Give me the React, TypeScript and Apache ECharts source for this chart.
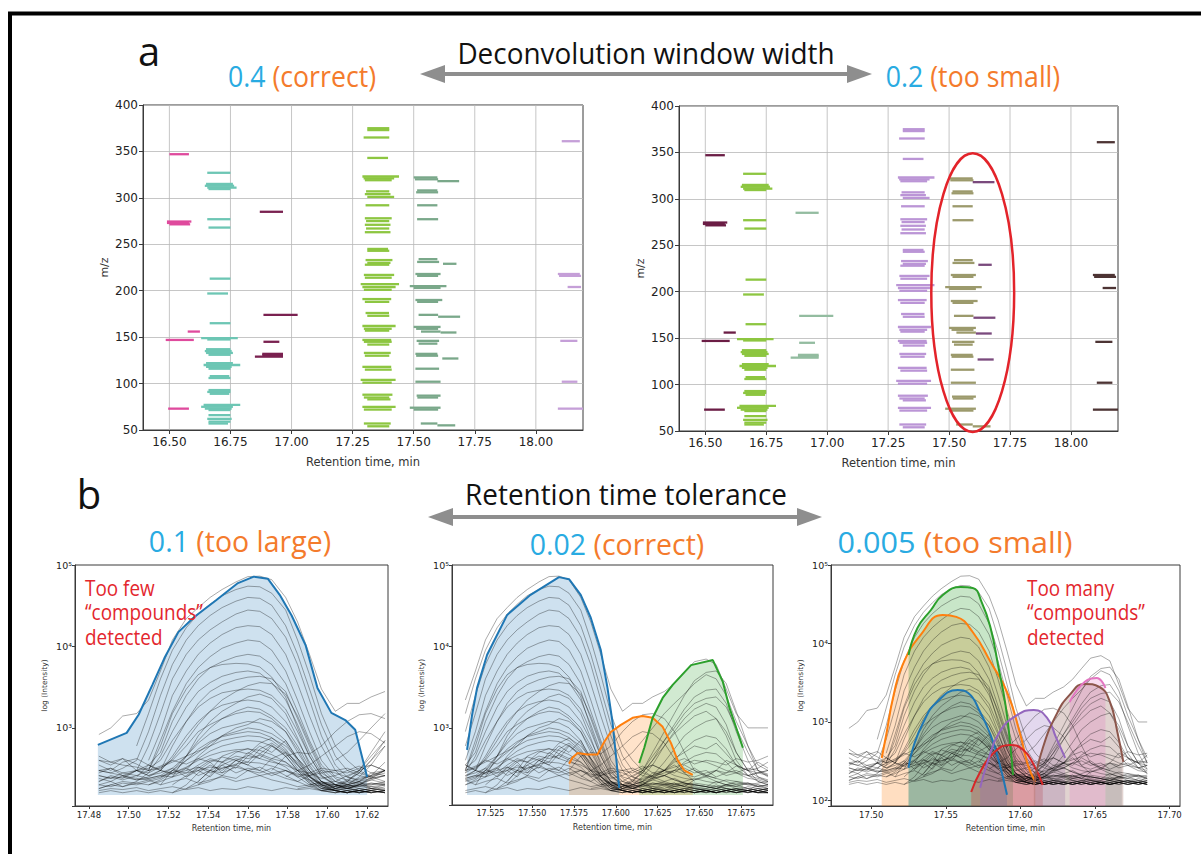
import React, { useEffect, useRef } from "react";
import * as echarts from "echarts";

// ================= Panel a (m/z vs retention time) =================
const A_X_TICKS = [16.5, 16.75, 17.0, 17.25, 17.5, 17.75, 18.0];
const A_X_MIN = 16.392;
const A_X_MAX = 18.193;
const A_Y_MIN = 50;
const A_Y_MAX = 400;
const A_Y_STEP = 50;

// segments: [rt start, rt end, m/z]
const GROUP_P = [[16.5, 16.58, 347], [16.49, 16.59, 274.5], [16.49, 16.58, 273], [16.5, 16.585, 271.5], [16.575, 16.625, 156], [16.485, 16.6, 147], [16.495, 16.58, 73]];
const GROUP_T = [[16.655, 16.75, 327], [16.65, 16.76, 315], [16.645, 16.765, 313], [16.655, 16.775, 311], [16.66, 16.75, 309.5], [16.655, 16.75, 277], [16.66, 16.75, 268], [16.665, 16.75, 213], [16.655, 16.74, 197], [16.665, 16.75, 165], [16.63, 16.78, 149], [16.655, 16.75, 147.5], [16.65, 16.75, 137], [16.645, 16.755, 135], [16.65, 16.76, 133], [16.66, 16.75, 131], [16.65, 16.76, 122], [16.64, 16.79, 120], [16.65, 16.755, 118], [16.66, 16.75, 116], [16.665, 16.745, 108], [16.66, 16.75, 106], [16.66, 16.75, 93], [16.655, 16.75, 91], [16.665, 16.745, 89], [16.64, 16.79, 77], [16.63, 16.76, 75], [16.645, 16.755, 73], [16.66, 16.75, 71.5], [16.66, 16.75, 66], [16.655, 16.755, 62], [16.66, 16.75, 59], [16.66, 16.74, 57]];
const GROUP_M = [[16.87, 16.965, 285], [16.885, 17.025, 174], [16.885, 16.95, 145], [16.88, 16.965, 132], [16.88, 16.965, 130.5], [16.85, 16.965, 129]];
const GROUP_G = [[17.31, 17.4, 375], [17.31, 17.4, 373], [17.295, 17.4, 365], [17.31, 17.395, 343], [17.29, 17.44, 323], [17.295, 17.42, 321], [17.3, 17.41, 319], [17.305, 17.4, 307], [17.3, 17.405, 304], [17.31, 17.42, 301], [17.303, 17.4, 292], [17.3, 17.41, 278], [17.305, 17.4, 275], [17.3, 17.405, 271], [17.305, 17.4, 267], [17.3, 17.405, 263], [17.31, 17.395, 245], [17.31, 17.4, 243], [17.303, 17.413, 233], [17.31, 17.405, 230], [17.3, 17.4, 228], [17.296, 17.42, 217], [17.3, 17.41, 214], [17.283, 17.44, 207], [17.29, 17.426, 204], [17.296, 17.41, 201], [17.29, 17.408, 191], [17.3, 17.4, 188], [17.303, 17.399, 176], [17.31, 17.4, 173], [17.29, 17.426, 162], [17.296, 17.41, 159], [17.3, 17.4, 157], [17.29, 17.408, 147], [17.296, 17.41, 145], [17.31, 17.4, 142], [17.296, 17.406, 133], [17.3, 17.4, 130], [17.29, 17.408, 118], [17.3, 17.41, 115], [17.283, 17.426, 104], [17.29, 17.41, 101], [17.29, 17.413, 88], [17.296, 17.4, 85], [17.31, 17.405, 83], [17.29, 17.426, 75], [17.296, 17.41, 72], [17.296, 17.406, 57], [17.31, 17.4, 54]];
const GROUP_S_MAIN = [[17.5, 17.597, 322], [17.505, 17.6, 320], [17.514, 17.597, 308], [17.51, 17.6, 306], [17.514, 17.597, 292], [17.514, 17.6, 277], [17.52, 17.597, 234], [17.514, 17.604, 231], [17.507, 17.61, 218], [17.514, 17.6, 216], [17.484, 17.634, 205], [17.5, 17.61, 203], [17.507, 17.617, 190], [17.514, 17.6, 188], [17.52, 17.6, 174], [17.5, 17.61, 161], [17.51, 17.6, 159], [17.53, 17.61, 156], [17.512, 17.604, 146], [17.52, 17.597, 143], [17.507, 17.597, 132], [17.51, 17.6, 130], [17.507, 17.604, 116], [17.507, 17.61, 102], [17.512, 17.61, 87], [17.515, 17.6, 85], [17.484, 17.61, 74], [17.5, 17.6, 72], [17.529, 17.597, 57], [17.597, 17.67, 55]];
const GROUP_S_EXT = [[17.597, 17.686, 318], [17.62, 17.675, 229], [17.6, 17.69, 172], [17.61, 17.675, 155], [17.617, 17.683, 127]];
const GROUP_L = [[18.106, 18.18, 361], [18.09, 18.18, 218], [18.095, 18.185, 216], [18.13, 18.185, 204], [18.1, 18.17, 146], [18.106, 18.17, 102], [18.09, 18.2, 73]];

// red ellipse annotation on the right panel (centre rt, centre m/z, half width rt, half height m/z)
const ELLIPSE = { rt: 17.597, mz: 199, halfRt: 0.17, halfMz: 150 };

// ================= Panel b (log intensity chromatograms) =================
const B1_X_TICKS = [17.48, 17.5, 17.52, 17.54, 17.56, 17.58, 17.6, 17.62];
const B2_X_TICKS = [17.525, 17.55, 17.575, 17.6, 17.625, 17.65, 17.675];
const B3_X_TICKS = [17.5, 17.55, 17.6, 17.65, 17.7];

const TIMES = [17.485, 17.491, 17.497, 17.504, 17.51, 17.516, 17.522, 17.529, 17.535, 17.541, 17.547, 17.554, 17.56, 17.566, 17.572, 17.579, 17.585, 17.591, 17.597, 17.604, 17.61, 17.616, 17.622, 17.629, 17.635, 17.641, 17.647, 17.654, 17.66, 17.666, 17.672, 17.679, 17.685, 17.691];

const _ = null;
const TRACES: (number | null)[][] = [
  [830, 1000, 1400, 1500, 2200, 5000, 12000, 22000, 30000, 40000, 50000, 62000, 72000, 73000, 66000, 40000, 20000, 8000, 3000, 1600, 2000, 2000, 2400, 2800, 3500, 4800, 6500, 7000, 6000, 3000, 1500, 1000, 1000, 1000],
  [_, _, _, 600, 1500, 4000, 9000, 17000, 25000, 33000, 42000, 50000, 55000, 54000, 45000, 28000, 12000, 4500, 1500, 600, 400, 300, 250, 220, 200, 210, 190, 180, 200, 180, 170, 190, 180, 170],
  [300, 280, 320, 400, 900, 2500, 6000, 12000, 18000, 24000, 30000, 36000, 40000, 39000, 32000, 18000, 8000, 3000, 1100, 450, 300, 260, 240, 260, 230, 210, 200, 190, 220, 200, 180, 170, 200, 190],
  [_, _, 250, 300, 600, 1500, 4000, 8000, 12000, 16000, 20000, 25000, 28000, 27000, 22000, 13000, 6000, 2200, 800, 350, 250, 220, 280, 300, 260, 240, 230, 250, 220, 200, 190, 210, 200, 180],
  [_, _, _, _, 400, 900, 2500, 5000, 8000, 11000, 14000, 17000, 18000, 17500, 14000, 8000, 3500, 1400, 600, 300, 220, 200, 180, 170, 190, 200, 180, 170, 160, 170, 180, 160, 170, 160],
  [220, 250, 230, 260, 300, 700, 1600, 3500, 5500, 7500, 9500, 11000, 12000, 11500, 9000, 5000, 2200, 900, 400, 250, 230, 210, 200, 220, 240, 210, 200, 190, 180, 200, 190, 180, 170, 180],
  [_, _, _, 250, 350, 500, 1200, 2500, 4000, 5500, 6500, 7500, 8000, 7600, 6000, 3500, 1600, 700, 350, 240, 200, 190, 210, 200, 180, 170, 160, 170, 180, 170, 160, 170, 180, 170],
  [180, 200, 190, 220, 280, 450, 900, 1800, 2800, 3600, 4300, 4800, 5000, 4700, 3600, 2200, 1100, 500, 280, 220, 200, 180, 170, 190, 180, 170, 200, 190, 180, 170, 160, 170, 160, 170],
  [_, _, _, _, _, 300, 600, 1200, 2000, 2800, 3400, 3900, 4200, 4300, 4000, 2800, 1300, 600, 300, 200, 180, 170, 160, 170, 160, 170, 160, 170, 160, 170, _, _, _, _],
  [260, 240, 280, 300, 320, 400, 700, 1200, 1800, 2300, 2700, 2900, 3000, 2900, 2500, 1700, 900, 450, 260, 200, 190, 180, 190, 200, 210, 190, 180, 170, 160, 170, 180, 170, 160, 170],
  [_, _, _, 300, 260, 300, 450, 800, 1200, 1600, 1900, 2100, 2200, 2100, 1800, 1200, 700, 380, 250, 200, 180, 170, 160, 170, 180, 170, 160, 170, 160, 170, 160, 170, 160, 160],
  [400, 380, 350, 330, 300, 320, 400, 600, 900, 1100, 1300, 1500, 1600, 1550, 1300, 900, 500, 300, 220, 180, 200, 220, 240, 260, 230, 210, 200, 190, 180, 200, 220, 210, 190, 180],
  [_, _, _, _, _, 200, 300, 450, 650, 850, 1000, 1100, 1200, 1150, 1000, 700, 420, 260, 190, 170, 160, 170, 160, 170, 160, 170, 160, 170, 160, 170, 160, 170, 160, 160],
  [180, 200, 220, 210, 200, 230, 280, 400, 550, 680, 780, 850, 900, 870, 760, 550, 350, 230, 180, 170, 160, 180, 170, 160, 170, 180, 170, 160, 170, 180, 170, 160, 170, 160],
  [_, _, _, _, 200, 220, 250, 320, 420, 520, 600, 660, 700, 680, 600, 450, 300, 210, 170, 160, 170, 160, 170, 160, 170, 160, 170, 160, 170, 160, 170, 160, 170, 160],
  [300, 280, 260, 240, 230, 250, 280, 330, 400, 460, 510, 540, 550, 530, 470, 380, 280, 210, 180, 170, 160, 170, 160, 170, 160, 170, 160, 170, 160, 170, 160, 170, 160, 160],
  [_, _, _, _, _, _, _, 250, 320, 400, 380, 450, 420, 460, 400, 330, 250, 200, 170, 160, 170, 160, 170, 160, 170, 160, _, _, _, _, _, _, _, _],
  [_, _, _, _, _, _, _, _, 300, 250, 350, 420, 380, 550, 650, 500, 320, 230, 180, 170, 160, _, _, _, _, _, _, _, _, _, _, _, _, _],
  [_, _, _, _, _, _, _, _, _, _, _, _, _, _, _, _, _, _, _, 200, 220, 300, 500, 900, 1500, 2500, 3800, 4800, 5000, 3500, 1600, 600, 300, 250],
  [_, _, _, _, _, _, _, _, _, _, _, _, _, _, _, _, 180, 190, 200, 200, 230, 280, 400, 700, 1100, 1700, 2400, 2900, 3000, 2000, 900, 400, 250, 220],
  [_, _, _, _, _, _, _, _, _, _, _, _, _, _, _, _, _, _, 170, 180, 200, 250, 350, 600, 900, 1300, 1700, 2000, 1800, 1100, 500, 300, 220, 200],
  [_, _, _, _, _, _, _, _, _, _, _, _, _, _, _, _, _, _, _, _, 200, 220, 260, 380, 550, 800, 1000, 1200, 1300, 900, 500, 300, 250, 230],
  [_, _, _, _, _, _, _, _, _, _, _, _, _, _, _, _, _, _, _, _, 180, 200, 240, 300, 400, 550, 700, 800, 750, 550, 350, 260, 240, 220],
  [_, _, _, _, _, _, _, _, _, _, _, _, _, _, _, _, _, _, _, _, _, 200, 230, 260, 300, 380, 450, 500, 480, 380, 280, 240, 230, 210],
  [_, _, _, _, _, _, _, _, _, _, _, _, _, _, 300, 450, 500, 480, 600, 900, 1200, 1450, 1500, 1300, 900, 500, 300, 260, 240, _, _, _, _, _],
  [_, _, _, _, _, _, _, _, _, _, _, _, _, _, _, 250, 300, 350, 450, 600, 780, 900, 850, 650, 420, 280, 220, _, _, _, _, _, _, _],
  [400, 350, 420, 300, 260, 280, 320, 250, 300, 380, 280, 330, 300, 260, 280, 240, 220, 260, 300, 280, 250, 230, 260, 300, 350, 280, 320, 260, 300, 280, 340, 300, 320, 380],
  [280, 320, 260, 300, 350, 300, 280, 320, 260, 300, 350, 280, 320, 300, 260, 300, 250, 280, 240, 260, 300, 340, 280, 260, 300, 320, 280, 300, 250, 280, 300, 260, 280, 300],
  [200, 220, 190, 210, 230, 200, 220, 240, 210, 230, 250, 220, 240, 260, 230, 210, 190, 200, 220, 200, 190, 210, 230, 210, 200, 220, 240, 220, 210, 230, 220, 200, 210, 220],
  [170, 180, 175, 185, 170, 180, 190, 175, 185, 170, 180, 175, 190, 180, 170, 185, 175, 180, 170, 175, 185, 170, 180, 175, 170, 180, 185, 175, 170, 180, 175, 170, 180, 175],
  [_, _, _, _, _, _, 160, 200, 280, 350, 300, 400, 350, 300, 420, 380, 300, 250, 210, 190, 180, 200, 250, 300, 280, 350, 300, 250, 300, 400, 350, 300, 380, 320],
  [350, 300, 380, 420, 350, 300, 270, 300, 330, 280, 320, 350, 300, 330, 280, 300, 270, 260, 280, 300, 320, 280, 250, 280, 300, 270, 250, 280, 300, 260, 280, 320, 300, 270],
  [_, _, _, _, _, _, _, 180, 220, 300, 260, 350, 500, 420, 600, 480, 350, 250, 200, 180, 200, 220, 180, 200, 210, 190, 230, 260, 240, 220, 200, 210, 190, 200],
  [_, _, _, _, _, _, _, _, 200, 260, 380, 320, 450, 600, 500, 700, 420, 300, 220, 180, _, _, _, _, _, _, _, _, _, _, _, _, _, _],
  [_, _, _, _, _, _, _, _, _, _, _, _, _, _, _, _, _, _, _, 400, 500, 700, 1000, 1500, 2000, 2600, 3500, 4500, 4000, 2500, 1200, 600, 350, 300],
  [_, _, _, _, _, 250, 300, 280, 350, 420, 380, 500, 560, 480, 620, 450, 300, 220, 190, 170, 180, 200, _, _, _, _, _, _, _, _, _, _, _, _],
  [220, 260, 240, 300, 280, 330, 380, 450, 520, 600, 700, 760, 800, 780, 700, 520, 360, 250, 200, 190, 210, 240, 260, 300, 330, 360, 400, 380, 340, 300, 280, 260, 280, 300],
  [_, _, _, _, 300, 600, 1500, 3000, 4500, 5500, 6000, 6200, 6100, 5600, 4200, 2400, 1000, 450, 260, 200, 180, 170, 180, 170, 160, 170, 160, 170, 160, _, _, _, _, _],
  [240, 220, 260, 230, 250, 300, 420, 700, 1100, 1600, 2200, 2800, 3300, 3600, 3500, 2600, 1400, 650, 320, 220, 200, 190, 200, 210, 190, 180, 170, 180, 190, 180, 170, 180, 170, 180],
  [_, _, _, _, _, _, 250, 450, 800, 1200, 1600, 2000, 2400, 2600, 2300, 1500, 750, 350, 220, 180, 170, 160, 170, 160, 170, _, _, _, _, _, _, _, _, _],
  [300, 320, 280, 260, 240, 260, 320, 450, 700, 1000, 1300, 1600, 1800, 1700, 1400, 1000, 600, 330, 220, 190, 180, 200, 190, 180, 200, 190, 180, 170, 180, 190, 200, 180, 170, 180],
  [_, _, _, _, _, _, _, 300, 450, 600, 800, 1000, 1100, 1300, 1200, 900, 550, 300, 200, 170, 160, 170, 160, _, _, _, _, _, _, _, _, _, _, _],
  [200, 190, 210, 200, 220, 240, 300, 400, 500, 650, 800, 900, 1000, 950, 850, 650, 400, 250, 190, 170, 160, 170, 180, 170, 160, 170, 180, 170, 160, 170, 180, 170, 160, 170],
  [_, _, _, _, _, _, 200, 260, 330, 300, 450, 520, 480, 650, 750, 600, 420, 280, 200, 170, 160, 170, _, _, _, _, _, _, _, _, _, _, _, _],
  [_, _, _, _, _, _, _, _, 220, 300, 280, 400, 350, 480, 420, 500, 380, 260, 200, 180, 170, 160, 170, _, _, _, _, _, _, _, _, _, _, _],
  [260, 240, 250, 230, 240, 260, 250, 280, 300, 330, 320, 360, 380, 370, 340, 300, 260, 230, 210, 200, 190, 200, 210, 200, 190, 200, 210, 200, 190, 200, 210, 200, 190, 200],
  [160, 170, 160, 170, 160, 170, 160, 180, 200, 220, 260, 240, 300, 280, 320, 260, 220, 190, 170, 160, 170, 160, 170, 160, 170, 160, 170, 160, 170, 160, 170, 160, 170, 160],
  [_, _, _, _, _, _, _, _, _, _, _, _, _, _, _, _, _, _, _, _, 250, 300, 350, 300, 420, 500, 600, 550, 650, 480, 350, 300, 280, 260],
  [_, _, _, _, _, _, _, _, _, _, _, _, _, _, _, _, _, 200, 210, 220, 260, 300, 450, 700, 1000, 1500, 2000, 2300, 2400, 1800, 1000, 500, 300, 260],
  [_, _, _, _, _, _, _, _, _, _, _, _, _, _, _, _, _, _, 180, 190, 220, 280, 400, 600, 850, 1100, 1400, 1600, 1300, 800, 400, 260, 220, 200],
  [450, 380, 420, 360, 300, 340, 400, 360, 420, 380, 440, 400, 460, 420, 380, 350, 300, 280, 320, 300, 280, 320, 350, 300, 380, 420, 360, 400, 380, 350, 420, 380, 400, 450],
];

// index windows of TIMES shown in each panel
const B1_WINDOW = [0, 23];
const B2_WINDOW = [4, 33];
const B3_WINDOW = [0, 32];

// coloured compound outlines [rt, intensity]
const B1_BLUE = [[17.4845, 620], [17.499, 870], [17.505, 1450], [17.512, 3400], [17.518, 7200], [17.525, 15000], [17.533, 23000], [17.544, 37000], [17.555, 60000], [17.563, 72000], [17.57, 68000], [17.576, 43000], [17.582, 24000], [17.589, 10400], [17.595, 3100], [17.602, 1530], [17.609, 1250], [17.614, 950], [17.62, 250]];
const B2_BLUE = [[17.511, 536], [17.514, 1440], [17.517, 3100], [17.523, 7900], [17.535, 24400], [17.549, 43000], [17.566, 71000], [17.572, 67000], [17.579, 43000], [17.585, 22500], [17.591, 9000], [17.595, 3100], [17.598, 1180], [17.6, 470], [17.602, 183]];
const B2_ORANGE = [[17.572, 363], [17.574, 430], [17.577, 490], [17.583, 470], [17.589, 470], [17.593, 670], [17.597, 890], [17.603, 1090], [17.61, 1330], [17.616, 1400], [17.622, 1330], [17.628, 1030], [17.633, 650], [17.637, 400], [17.641, 300], [17.646, 265]];
const B2_GREEN = [[17.614, 370], [17.617, 570], [17.622, 1330], [17.628, 2330], [17.634, 3370], [17.645, 5900], [17.658, 6800], [17.664, 3670], [17.668, 1760], [17.676, 570]];
const B3_ORANGE = [[17.507, 348], [17.51, 683], [17.515, 2210], [17.521, 5330], [17.533, 12800], [17.548, 23100], [17.557, 21800], [17.568, 14000], [17.58, 5800], [17.591, 2410], [17.6, 683], [17.605, 284], [17.61, 172]];
const B3_GREEN = [[17.525, 7130], [17.531, 15800], [17.54, 26700], [17.548, 41500], [17.56, 52300], [17.568, 51000], [17.574, 33700], [17.58, 15800], [17.585, 5330], [17.59, 1650], [17.593, 560], [17.595, 211]];
const B3_BLUE = [[17.525, 260], [17.528, 466], [17.535, 1000], [17.544, 1800], [17.558, 2550], [17.565, 2340], [17.573, 1340], [17.58, 683], [17.585, 348], [17.591, 118]];
const B3_RED = [[17.567, 128], [17.573, 231], [17.582, 403], [17.593, 510], [17.602, 440], [17.609, 284], [17.615, 158]];
const B3_PURPLE = [[17.573, 145], [17.578, 310], [17.586, 746], [17.598, 1230], [17.609, 1420], [17.618, 1120], [17.624, 626], [17.63, 348]];
const B3_BROWN = [[17.609, 158], [17.615, 466], [17.624, 1230], [17.633, 2210], [17.643, 3050], [17.653, 2790], [17.66, 1800], [17.665, 746], [17.669, 310]];
const B3_PINK = [[17.633, 1800], [17.645, 3430], [17.651, 3640], [17.657, 2710]];
const B3_GREY = [[17.657, 260], [17.662, 300], [17.668, 260]];

const TAB = { blue: "#1f77b4", orange: "#ff7f0e", green: "#2ca02c", red: "#d62728", purple: "#9467bd", brown: "#8c564b", pink: "#e377c2", grey: "#7f7f7f" };
const TXT_BLUE = "#29abe2";
const TXT_ORANGE = "#f47b2c";
const TXT_RED = "#e3262d";
const ARROW = "#8e8e8e";

const GRIDS = [
  { left: 143, top: 105, width: 440, height: 325 },
  { left: 679, top: 106, width: 439, height: 325 },
  { left: 75, top: 565, width: 313, height: 241 },
  { left: 452, top: 565, width: 321, height: 240 },
  { left: 831, top: 565, width: 349, height: 241 },
];

const SUP: Record<number, string> = { 1: "\u00b9", 2: "\u00b2", 3: "\u00b3", 4: "\u2074", 5: "\u2075" };
const powFmt = (v: number) => {
  const e = Math.log10(v);
  const r = Math.round(e);
  return Math.abs(e - r) < 1e-6 ? "10" + SUP[r] : "";
};

const segRender = (color: string, width: number) => (params: any, api: any) => {
  const y = api.value(2);
  const p1 = api.coord([api.value(0), y]);
  const p2 = api.coord([api.value(1), y]);
  return { type: "line", shape: { x1: p1[0], y1: p1[1], x2: p2[0], y2: p2[1] }, style: { stroke: color, lineWidth: width } };
};

const vGridRender = (params: any, api: any) => {
  const x = api.coord([api.value(0), api.value(1)])[0];
  const cs = params.coordSys;
  return { type: "line", shape: { x1: x, y1: cs.y, x2: x, y2: cs.y + cs.height }, style: { stroke: "#b8b8b8", lineWidth: 0.8 } };
};

function buildOption() {
  const grid = GRIDS.map((g) => ({ ...g, show: true, borderColor: "#3a3a3a", borderWidth: 1, backgroundColor: "transparent" }));
  const axisLineStyle = { color: "#3a3a3a", width: 1 };

  const xAxis: any[] = [];
  const yAxis: any[] = [];
  [0, 1].forEach((g) => {
    xAxis.push({
      type: "value", gridIndex: g, min: A_X_MIN, max: A_X_MAX,
      axisLine: { show: true, onZero: false, lineStyle: axisLineStyle },
      axisTick: { show: true, length: 4, customValues: A_X_TICKS, lineStyle: axisLineStyle },
      axisLabel: { customValues: A_X_TICKS, formatter: (v: number) => v.toFixed(2), fontSize: 12, color: "#222", margin: 6, fontFamily: "DejaVu Sans" },
      splitLine: { show: false },
      name: "Retention time, min", nameLocation: "middle", nameGap: 26,
      nameTextStyle: { fontSize: 11.5, color: "#333", fontFamily: "DejaVu Sans" },
    });
    yAxis.push({
      type: "value", gridIndex: g, min: A_Y_MIN, max: A_Y_MAX, interval: A_Y_STEP,
      axisLine: { show: true, onZero: false, lineStyle: axisLineStyle },
      axisTick: { show: true, length: 4, lineStyle: axisLineStyle },
      axisLabel: { fontSize: 12, color: "#222", margin: 5, fontFamily: "DejaVu Sans" },
      splitLine: { show: true, lineStyle: { color: "#b8b8b8", width: 0.8 } },
      name: "m/z", nameLocation: "middle", nameGap: 33,
      nameTextStyle: { fontSize: 11, color: "#333", fontFamily: "DejaVu Sans" },
    });
  });
  const bAxes = [
    { ticks: B1_X_TICKS, min: 17.473, max: 17.6305, ymin: 110, dec: 2, fs: 8.5 },
    { ticks: B2_X_TICKS, min: 17.502, max: 17.694, ymin: 113, dec: 3, fs: 8 },
    { ticks: B3_X_TICKS, min: 17.473, max: 17.707, ymin: 85, dec: 2, fs: 8.5 },
  ];
  bAxes.forEach((b, i) => {
    const g = i + 2;
    xAxis.push({
      type: "value", gridIndex: g, min: b.min, max: b.max,
      axisLine: { show: true, onZero: false, lineStyle: axisLineStyle },
      axisTick: { show: true, length: 3, customValues: b.ticks, lineStyle: axisLineStyle },
      axisLabel: { customValues: b.ticks, formatter: (v: number) => v.toFixed(b.dec), fontSize: b.fs, color: "#222", margin: 4, fontFamily: "DejaVu Sans" },
      splitLine: { show: false },
      name: "Retention time, min", nameLocation: "middle", nameGap: 18,
      nameTextStyle: { fontSize: 8, color: "#333", fontFamily: "DejaVu Sans" },
    });
    yAxis.push({
      type: "log", logBase: 10, gridIndex: g, min: b.ymin, max: 100000,
      axisLine: { show: true, onZero: false, lineStyle: axisLineStyle },
      axisTick: { show: true, length: 3, lineStyle: axisLineStyle },
      axisLabel: { formatter: powFmt, fontSize: 9.5, color: "#222", margin: 3, fontFamily: "DejaVu Sans" },
      splitLine: { show: false },
      name: "log (Intensity)", nameLocation: "middle", nameGap: 27,
      nameTextStyle: { fontSize: 7.5, color: "#333", fontFamily: "DejaVu Sans" },
    });
  });

  const series: any[] = [];
  [0, 1].forEach((g) => {
    series.push({ type: "custom", xAxisIndex: g, yAxisIndex: g, data: A_X_TICKS.map((v) => [v, 225]), encode: { x: 0, y: 1 }, renderItem: vGridRender, silent: true, z: 1 });
  });
  const segGroups: [number[][], string, string][] = [
    [GROUP_P, "#df4a9d", "#6b1d45"],
    [GROUP_T, "#6dc6b4", "#8dc641"],
    [GROUP_M, "#7a2150", "#93bca0"],
    [GROUP_G, "#8dc641", "#bb95d6"],
    [GROUP_S_MAIN, "#7aa88a", "#9c9a6c"],
    [GROUP_S_EXT, "#7aa88a", "#7a4a7d"],
    [GROUP_L, "#c59fd8", "#4d3434"],
  ];
  segGroups.forEach(([data, cl, cr]) => {
    [cl, cr].forEach((c, g) => {
      series.push({ type: "custom", xAxisIndex: g, yAxisIndex: g, data, encode: { x: [0, 1], y: 2 }, renderItem: segRender(c, 2.3), clip: true, silent: true, z: 2 });
    });
  });

  const fill = (g: number, data: number[][], color: string, origin: any, smooth = false, op = 0.22) => ({
    type: "line", xAxisIndex: g, yAxisIndex: g, data, symbol: "none", smooth, silent: true, z: 2,
    lineStyle: { width: 0, opacity: 0 }, areaStyle: { color, opacity: op, origin },
  });
  const outline = (g: number, data: number[][], color: string, smooth = false) => ({
    type: "line", xAxisIndex: g, yAxisIndex: g, data, symbol: "none", smooth, silent: true, z: 4,
    lineStyle: { width: 2, color },
  });

  series.push(fill(2, B1_BLUE, TAB.blue, 150));
  series.push(fill(3, B2_BLUE, TAB.blue, 150));
  series.push(fill(3, B2_ORANGE, TAB.orange, 150));
  series.push(fill(3, B2_GREEN, TAB.green, 150));
  const b3 = [[B3_ORANGE, TAB.orange], [B3_GREEN, TAB.green], [B3_BLUE, TAB.blue], [B3_RED, TAB.red], [B3_PURPLE, TAB.purple], [B3_BROWN, TAB.brown], [B3_PINK, TAB.pink], [B3_GREY, TAB.grey]] as [number[][], string][];
  b3.forEach(([d, c]) => series.push(fill(4, d, c, "start", true, 0.26)));

  const windows = [B1_WINDOW, B2_WINDOW, B3_WINDOW];
  windows.forEach((w, i) => {
    const g = i + 2;
    TRACES.forEach((tr) => {
      const data: number[][] = [];
      for (let k = w[0]; k <= w[1]; k++) {
        const v = tr[k];
        if (v != null) data.push([TIMES[k], v]);
      }
      if (data.length > 1) {
        series.push({ type: "line", xAxisIndex: g, yAxisIndex: g, data, symbol: "none", silent: true, z: 3, lineStyle: { width: 0.8, color: "rgba(0,0,0,0.42)" } });
      }
    });
  });

  series.push(outline(2, B1_BLUE, TAB.blue));
  series.push(outline(3, B2_BLUE, TAB.blue));
  series.push(outline(3, B2_ORANGE, TAB.orange));
  series.push(outline(3, B2_GREEN, TAB.green));
  b3.forEach(([d, c]) => { if (c !== TAB.grey) series.push(outline(4, d, c, true)); });

  return { animation: false, backgroundColor: "#ffffff", textStyle: { fontFamily: "DejaVu Sans" }, grid, xAxis, yAxis, series };
}

const ANNO_FONT = "Open Sans";
const txt = (x: number, y: number, text: string, size: number, fill: string, sx = 0.93) => ({
  type: "text", x, y, scaleX: sx, z: 100,
  style: { text, fill, fontSize: size, fontFamily: ANNO_FONT, align: "center", verticalAlign: "middle", textAlign: "center", textVerticalAlign: "middle" },
});
const richTxt = (x: number, y: number, num: string, note: string, size: number, sx: number) => ({
  type: "text", x, y, scaleX: sx, z: 100,
  style: {
    text: `{b|${num}} {o|${note}}`, fontSize: size, fontFamily: ANNO_FONT, align: "center", verticalAlign: "middle", textAlign: "center", textVerticalAlign: "middle",
    rich: { b: { fill: TXT_BLUE, fontSize: size, fontFamily: ANNO_FONT }, o: { fill: TXT_ORANGE, fontSize: size, fontFamily: ANNO_FONT } },
  },
});
const arrow = (x1: number, x2: number, y: number) => [
  { type: "line", z: 100, shape: { x1: x1 + 20, y1: y, x2: x2 - 20, y2: y }, style: { stroke: ARROW, lineWidth: 4 } },
  { type: "polygon", z: 100, shape: { points: [[x1, y], [x1 + 25, y - 9], [x1 + 25, y + 9]] }, style: { fill: ARROW } },
  { type: "polygon", z: 100, shape: { points: [[x2, y], [x2 - 25, y - 9], [x2 - 25, y + 9]] }, style: { fill: ARROW } },
];
const redNote = (x: number, text: string) => ({
  type: "text", x, y: 575, scaleX: 0.86, z: 100,
  style: { text, fill: TXT_RED, fontSize: 22, lineHeight: 24.5, fontFamily: ANNO_FONT, align: "left", verticalAlign: "top", textAlign: "left", textVerticalAlign: "top" },
});

export default function App() {
  const ref = useRef<HTMLDivElement>(null);
  useEffect(() => {
    if (!ref.current) return;
    const chart = echarts.init(ref.current, null, { renderer: "svg" });
    chart.setOption(buildOption());
    const c = chart.convertToPixel({ xAxisIndex: 1, yAxisIndex: 1 } as any, [ELLIPSE.rt, ELLIPSE.mz]) as number[];
    const e = chart.convertToPixel({ xAxisIndex: 1, yAxisIndex: 1 } as any, [ELLIPSE.rt + ELLIPSE.halfRt, ELLIPSE.mz + ELLIPSE.halfMz]) as number[];
    const graphic: any[] = [
      { type: "rect", z: 100, shape: { x: 10, y: 13.5, width: 1400, height: 1000 }, style: { fill: "none", stroke: "#000", lineWidth: 4 } },
      txt(149, 50, "a", 40, "#111", 1),
      txt(646, 52, "Deconvolution window width", 30, "#111"),
      richTxt(302, 76, "0.4", "(correct)", 29, 0.92),
      richTxt(973, 76, "0.2", "(too small)", 29, 0.92),
      ...arrow(420, 872, 74),
      txt(89, 493, "b", 40, "#111", 1),
      txt(626, 493, "Retention time tolerance", 30, "#111"),
      richTxt(240, 541, "0.1", "(too large)", 30, 0.95),
      richTxt(617, 544, "0.02", "(correct)", 30, 0.95),
      richTxt(955, 542, "0.005", "(too small)", 30, 1.02),
      ...arrow(428, 822, 517),
      redNote(85, "Too few\n\u201ccompounds\u201d\ndetected"),
      redNote(1027, "Too many\n\u201ccompounds\u201d\ndetected"),
      { type: "ellipse", z: 100, shape: { cx: c[0], cy: c[1], rx: e[0] - c[0], ry: c[1] - e[1] }, style: { fill: "none", stroke: "#e3232a", lineWidth: 2.5 } },
    ];
    chart.setOption({ graphic });
    return () => chart.dispose();
  }, []);
  return <div ref={ref} style={{ position: "fixed", left: 0, top: 0, width: 1201, height: 854, background: "#fff" }} />;
}
